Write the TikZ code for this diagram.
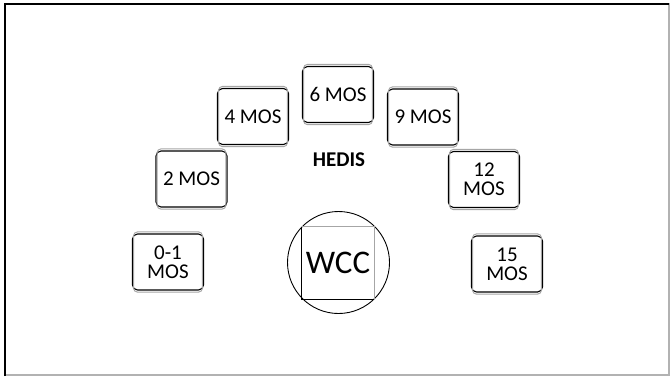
\documentclass[tikz,border=0pt]{standalone}
\usepackage{fontspec}
\setmainfont{Carlito}
\begin{document}
\begin{tikzpicture}[x=1pt,y=-1pt,
  mosbox/.style={draw=black, line width=1.1pt, rounded corners=5pt,
    minimum width=71pt, minimum height=56pt, inner sep=0pt, align=center,
    font=\fontsize{21}{19}\selectfont},
  bevel/.style={draw=gray!70, line width=1pt, rounded corners=4pt}]
  \useasboundingbox (0,0) rectangle (670,376);
  % outer frame
  \draw[gray!60, line width=1.5pt] (5,4) -- (669,4) -- (669,375) -- (5,375);
  \draw[black, line width=2.6pt] (5,376) -- (5,4) -- (669,4);
  % age milestones
  \node[mosbox] (m0)  at (168,262)   {0-1\\MOS};
  \node[mosbox] (m2)  at (191.5,179) {2 MOS};
  \node[mosbox] (m4)  at (253,116.5) {4 MOS};
  \node[mosbox] (m6)  at (338,94.5)  {6 MOS};
  \node[mosbox] (m9)  at (423,117)   {9 MOS};
  \node[mosbox] (m12) at (484,179.5) {12\\MOS};
  \node[mosbox] (m15) at (507,264)   {15\\MOS};
  \foreach \n in {m0,m2,m4,m6,m9,m12,m15}
    \draw[bevel] ([shift={(1.6pt,-1.6pt)}]\n.south west) rectangle ([shift={(-1.6pt,1.6pt)}]\n.north east);
  % title
  \node[font=\fontsize{21}{24}\selectfont\bfseries] (hedis) at (339,160) {HEDIS};
  % well child care
  \node[draw=black, line width=0.9pt, circle, minimum size=102pt, inner sep=0pt] (wc) at (338.5,262.5) {};
  \node[minimum width=72pt, minimum height=72pt, inner sep=0pt,
        font=\fontsize{33}{36}\selectfont] (wcc) at (338,263) {WCC};
  \draw[gray!70, line width=1.3pt] (wcc.north west) -- (wcc.north east) -- (wcc.south east);
  \draw[black, line width=1.1pt] (wcc.north west) -- (wcc.south west) -- (wcc.south east);
\end{tikzpicture}
\end{document}
